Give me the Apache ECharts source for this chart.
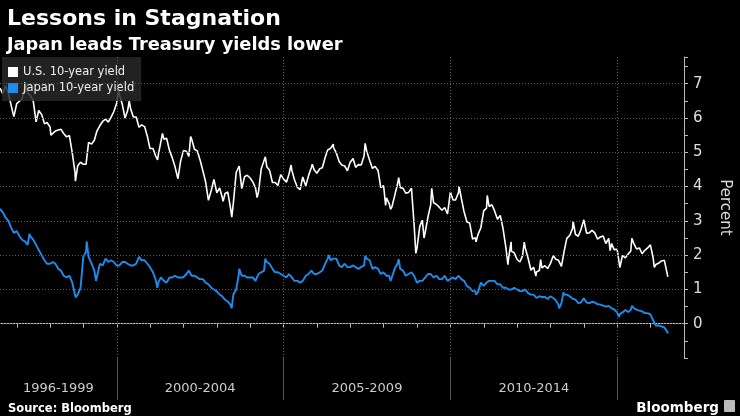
<!DOCTYPE html>
<html>
<head>
<meta charset="utf-8">
<script src="https://cdn.jsdelivr.net/npm/echarts@6/dist/echarts.min.js"></script>
<style>html,body{margin:0;padding:0;background:#000;}#c{width:740px;height:416px;}</style>
</head>
<body>
<div id="c"></div>
<script>
// ---- data ----
var usYield = [
['1996-07-01',6.87],['1996-07-31',6.71],['1996-08-30',6.94],['1996-09-30',6.72],['1996-10-31',6.37],['1996-11-29',6.04],['1996-12-05',6.10],['1996-12-31',6.42],
['1997-01-31',6.49],['1997-02-28',6.55],['1997-03-31',6.90],['1997-04-11',6.98],['1997-04-30',6.72],['1997-05-30',6.66],['1997-06-30',6.50],['1997-07-31',5.89],['1997-08-29',6.22],['1997-09-30',6.10],['1997-10-31',5.83],['1997-11-28',5.87],['1997-12-31',5.74],
['1998-01-09',5.50],['1998-01-30',5.51],['1998-02-27',5.62],['1998-03-31',5.65],['1998-04-30',5.67],['1998-05-29',5.55],['1998-06-30',5.45],['1998-07-31',5.49],['1998-08-31',4.98],['1998-09-30',4.42],['1998-10-05',4.16],['1998-10-30',4.61],['1998-11-30',4.71],['1998-12-31',4.65],
['1999-01-29',4.65],['1999-02-26',5.29],['1999-03-31',5.24],['1999-04-30',5.35],['1999-05-28',5.62],['1999-06-30',5.78],['1999-07-30',5.90],['1999-08-31',5.97],['1999-09-30',5.88],['1999-10-29',6.02],['1999-11-30',6.19],['1999-12-31',6.44],
['2000-01-20',6.79],['2000-01-31',6.67],['2000-02-29',6.41],['2000-03-31',6.00],['2000-04-28',6.21],['2000-05-16',6.50],['2000-05-31',6.27],['2000-06-30',6.03],['2000-07-31',6.03],['2000-08-31',5.73],['2000-09-29',5.80],['2000-10-31',5.75],['2000-11-30',5.47],['2000-12-29',5.11],
['2001-01-31',5.11],['2001-02-28',4.90],['2001-03-22',4.78],['2001-03-30',4.92],['2001-04-30',5.35],['2001-05-15',5.55],['2001-05-31',5.38],['2001-06-29',5.41],['2001-07-31',5.05],['2001-08-31',4.83],['2001-09-28',4.59],['2001-10-31',4.23],['2001-11-07',4.19],['2001-11-30',4.75],['2001-12-31',5.05],
['2002-01-31',5.03],['2002-02-28',4.88],['2002-03-19',5.46],['2002-03-29',5.40],['2002-04-30',5.09],['2002-05-31',5.04],['2002-06-28',4.80],['2002-07-31',4.46],['2002-08-30',4.14],['2002-09-30',3.60],['2002-10-09',3.57],['2002-10-31',3.89],['2002-11-29',4.21],['2002-12-31',3.82],
['2003-01-31',3.96],['2003-02-28',3.69],['2003-03-10',3.57],['2003-03-31',3.80],['2003-04-30',3.84],['2003-05-30',3.37],['2003-06-13',3.11],['2003-06-30',3.52],['2003-07-31',4.41],['2003-09-02',4.60],['2003-09-30',3.94],['2003-10-31',4.29],['2003-11-28',4.33],['2003-12-31',4.25],
['2004-01-30',4.13],['2004-02-27',3.97],['2004-03-16',3.68],['2004-03-31',3.84],['2004-04-30',4.51],['2004-06-14',4.87],['2004-06-30',4.58],['2004-07-30',4.48],['2004-08-31',4.12],['2004-09-30',4.12],['2004-10-29',4.03],['2004-11-30',4.35],['2004-12-31',4.22],
['2005-01-31',4.13],['2005-02-28',4.36],['2005-03-23',4.63],['2005-03-31',4.48],['2005-04-29',4.20],['2005-05-31',3.98],['2005-06-30',3.91],['2005-07-29',4.28],['2005-08-31',4.02],['2005-09-30',4.32],['2005-10-31',4.56],['2005-11-10',4.65],['2005-11-30',4.49],['2005-12-30',4.39],
['2006-01-31',4.52],['2006-02-28',4.55],['2006-03-31',4.85],['2006-04-28',5.07],['2006-05-31',5.12],['2006-06-28',5.24],['2006-06-30',5.14],['2006-07-31',4.98],['2006-08-31',4.73],['2006-09-29',4.63],['2006-10-31',4.60],['2006-11-30',4.46],['2006-12-29',4.70],
['2007-01-31',4.82],['2007-02-28',4.56],['2007-03-30',4.64],['2007-04-30',4.63],['2007-05-31',4.89],['2007-06-12',5.26],['2007-06-29',5.03],['2007-07-31',4.77],['2007-08-31',4.53],['2007-09-28',4.59],['2007-10-31',4.47],['2007-11-30',3.97],['2007-12-31',4.03],
['2008-01-22',3.45],['2008-01-31',3.67],['2008-02-29',3.51],['2008-03-17',3.34],['2008-03-31',3.41],['2008-04-30',3.73],['2008-05-30',4.06],['2008-06-13',4.26],['2008-06-30',3.97],['2008-07-31',3.95],['2008-08-29',3.81],['2008-09-30',3.83],['2008-10-31',3.95],['2008-11-28',2.93],['2008-12-18',2.05],['2008-12-31',2.21],
['2009-01-30',2.84],['2009-02-27',3.02],['2009-03-18',2.50],['2009-03-31',2.67],['2009-04-30',3.12],['2009-05-29',3.46],['2009-06-10',3.95],['2009-06-30',3.53],['2009-07-31',3.48],['2009-08-31',3.40],['2009-09-30',3.31],['2009-10-30',3.39],['2009-11-30',3.20],['2009-12-31',3.84],
['2010-01-29',3.61],['2010-02-26',3.61],['2010-03-31',3.83],['2010-04-05',4.01],['2010-04-30',3.66],['2010-05-28',3.29],['2010-06-30',2.97],['2010-07-30',2.94],['2010-08-31',2.47],['2010-09-30',2.51],['2010-10-08',2.39],['2010-10-29',2.60],['2010-11-30',2.80],['2010-12-31',3.29],
['2011-01-31',3.37],['2011-02-08',3.74],['2011-02-28',3.42],['2011-03-31',3.47],['2011-04-29',3.29],['2011-05-31',3.05],['2011-06-30',3.16],['2011-07-29',2.80],['2011-08-31',2.22],['2011-09-22',1.72],['2011-09-30',1.92],['2011-10-27',2.39],['2011-10-31',2.11],['2011-11-30',2.07],['2011-12-30',1.88],
['2012-01-31',1.80],['2012-02-29',1.98],['2012-03-19',2.38],['2012-03-30',2.21],['2012-04-30',1.91],['2012-05-31',1.56],['2012-06-29',1.65],['2012-07-24',1.39],['2012-07-31',1.51],['2012-08-31',1.55],['2012-09-14',1.87],['2012-09-28',1.63],['2012-10-31',1.69],['2012-11-30',1.61],['2012-12-31',1.76],
['2013-01-31',1.98],['2013-02-28',1.88],['2013-03-29',1.85],['2013-04-30',1.67],['2013-05-31',2.13],['2013-06-28',2.49],['2013-07-31',2.58],['2013-08-30',2.78],['2013-09-05',2.99],['2013-09-30',2.61],['2013-10-31',2.55],['2013-11-29',2.74],['2013-12-31',3.03],
['2014-01-31',2.64],['2014-02-28',2.65],['2014-03-31',2.72],['2014-04-30',2.65],['2014-05-30',2.47],['2014-06-30',2.53],['2014-07-31',2.56],['2014-08-29',2.34],['2014-09-30',2.49],['2014-10-15',2.13],['2014-10-31',2.34],['2014-11-28',2.16],['2014-12-31',2.17],
['2015-01-30',1.64],['2015-02-27',1.99],['2015-03-31',1.92],['2015-04-30',2.03],['2015-05-29',2.12],['2015-06-10',2.49],['2015-06-30',2.35],['2015-07-31',2.18],['2015-08-31',2.21],['2015-09-30',2.04],['2015-10-30',2.14],['2015-11-30',2.21],['2015-12-30',2.30],['2015-12-31',2.27],
['2016-01-29',1.92],['2016-02-11',1.64],['2016-02-29',1.73],['2016-03-31',1.77],['2016-04-29',1.83],['2016-05-31',1.85],['2016-06-30',1.47],['2016-07-08',1.37]
];
var japanYield = [
['1996-07-01',3.35],['1996-07-31',3.25],['1996-08-30',3.10],['1996-09-30',3.00],['1996-10-31',2.80],['1996-11-29',2.65],['1996-12-31',2.70],
['1997-01-31',2.55],['1997-02-28',2.45],['1997-03-31',2.40],['1997-04-30',2.30],['1997-05-20',2.62],['1997-05-30',2.55],['1997-06-30',2.45],['1997-07-31',2.30],['1997-08-29',2.15],['1997-09-30',2.00],['1997-10-31',1.85],['1997-11-28',1.75],['1997-12-31',1.75],
['1998-01-30',1.80],['1998-02-27',1.75],['1998-03-31',1.60],['1998-04-30',1.55],['1998-05-29',1.40],['1998-06-30',1.35],['1998-07-31',1.40],['1998-08-31',1.20],['1998-09-30',0.85],['1998-10-07',0.77],['1998-10-30',0.85],['1998-11-30',1.05],['1998-12-30',1.95],
['1999-01-29',2.10],['1999-02-05',2.40],['1999-02-26',1.95],['1999-03-31',1.75],['1999-04-30',1.55],['1999-05-18',1.25],['1999-05-31',1.40],['1999-06-30',1.75],['1999-07-30',1.70],['1999-08-31',1.90],['1999-09-30',1.80],['1999-10-29',1.85],['1999-11-30',1.80],['1999-12-30',1.70],
['2000-01-31',1.70],['2000-02-29',1.80],['2000-03-31',1.80],['2000-04-28',1.75],['2000-05-31',1.70],['2000-06-30',1.70],['2000-07-31',1.75],['2000-08-31',1.95],['2000-09-29',1.85],['2000-10-31',1.85],['2000-11-30',1.75],['2000-12-29',1.65],
['2001-01-31',1.50],['2001-02-28',1.30],['2001-03-19',1.05],['2001-03-30',1.20],['2001-04-27',1.35],['2001-05-31',1.25],['2001-06-29',1.20],['2001-07-31',1.35],['2001-08-31',1.35],['2001-09-28',1.40],['2001-10-31',1.35],['2001-11-30',1.35],['2001-12-28',1.35],
['2002-01-31',1.45],['2002-02-28',1.55],['2002-03-29',1.40],['2002-04-30',1.40],['2002-05-31',1.35],['2002-06-28',1.30],['2002-07-31',1.30],['2002-08-30',1.20],['2002-09-30',1.15],['2002-10-31',1.05],['2002-11-29',1.00],['2002-12-27',0.95],
['2003-01-31',0.85],['2003-02-28',0.80],['2003-03-31',0.70],['2003-04-30',0.65],['2003-05-30',0.55],['2003-06-11',0.45],['2003-06-30',0.85],['2003-07-31',1.00],['2003-08-29',1.45],['2003-09-02',1.60],['2003-09-30',1.40],['2003-10-31',1.40],['2003-11-28',1.35],['2003-12-26',1.35],
['2004-01-30',1.35],['2004-02-27',1.25],['2004-03-31',1.45],['2004-04-30',1.50],['2004-05-31',1.55],['2004-06-14',1.90],['2004-06-30',1.80],['2004-07-30',1.75],['2004-08-31',1.60],['2004-09-30',1.50],['2004-10-29',1.50],['2004-11-30',1.45],['2004-12-28',1.40],
['2005-01-31',1.35],['2005-02-28',1.45],['2005-03-31',1.35],['2005-04-28',1.25],['2005-05-31',1.25],['2005-06-30',1.20],['2005-07-29',1.25],['2005-08-31',1.40],['2005-09-30',1.45],['2005-10-31',1.55],['2005-11-30',1.45],['2005-12-28',1.45],
['2006-01-31',1.50],['2006-02-28',1.55],['2006-03-31',1.75],['2006-04-28',1.90],['2006-05-10',2.00],['2006-05-31',1.85],['2006-06-30',1.90],['2006-07-31',1.90],['2006-08-31',1.70],['2006-09-29',1.65],['2006-10-31',1.75],['2006-11-30',1.65],['2006-12-28',1.65],
['2007-01-31',1.70],['2007-02-28',1.65],['2007-03-30',1.60],['2007-04-27',1.65],['2007-05-31',1.70],['2007-06-13',1.98],['2007-06-29',1.90],['2007-07-31',1.85],['2007-08-31',1.60],['2007-09-28',1.65],['2007-10-31',1.60],['2007-11-30',1.45],['2007-12-28',1.50],
['2008-01-31',1.40],['2008-02-29',1.40],['2008-03-17',1.25],['2008-03-31',1.30],['2008-04-30',1.60],['2008-05-30',1.75],['2008-06-13',1.88],['2008-06-30',1.60],['2008-07-31',1.55],['2008-08-29',1.40],['2008-09-30',1.45],['2008-10-31',1.50],['2008-11-28',1.40],['2008-12-30',1.20],
['2009-01-30',1.25],['2009-02-27',1.25],['2009-03-31',1.35],['2009-04-30',1.45],['2009-05-29',1.45],['2009-06-30',1.35],['2009-07-31',1.40],['2009-08-31',1.30],['2009-09-30',1.30],['2009-10-30',1.40],['2009-11-30',1.25],['2009-12-30',1.30],
['2010-01-29',1.35],['2010-02-26',1.30],['2010-03-31',1.40],['2010-04-30',1.30],['2010-05-31',1.25],['2010-06-30',1.10],['2010-07-30',1.05],['2010-08-31',0.95],['2010-09-30',0.95],['2010-10-06',0.85],['2010-10-29',0.92],['2010-11-30',1.20],['2010-12-30',1.10],
['2011-01-31',1.20],['2011-02-28',1.25],['2011-03-31',1.25],['2011-04-28',1.25],['2011-05-31',1.15],['2011-06-30',1.15],['2011-07-29',1.05],['2011-08-31',1.05],['2011-09-30',1.00],['2011-10-31',1.00],['2011-11-30',1.05],['2011-12-30',1.00],
['2012-01-31',0.95],['2012-02-29',0.95],['2012-03-30',1.00],['2012-04-27',0.90],['2012-05-31',0.85],['2012-06-29',0.85],['2012-07-31',0.75],['2012-08-31',0.80],['2012-09-28',0.78],['2012-10-31',0.78],['2012-11-30',0.72],['2012-12-28',0.80],
['2013-01-31',0.75],['2013-02-28',0.68],['2013-03-29',0.55],['2013-04-05',0.45],['2013-04-30',0.60],['2013-05-23',0.92],['2013-05-31',0.85],['2013-06-28',0.85],['2013-07-31',0.80],['2013-08-30',0.73],['2013-09-30',0.70],['2013-10-31',0.60],['2013-11-29',0.62],['2013-12-30',0.74],
['2014-01-31',0.62],['2014-02-28',0.60],['2014-03-31',0.64],['2014-04-30',0.62],['2014-05-30',0.57],['2014-06-30',0.56],['2014-07-31',0.53],['2014-08-29',0.50],['2014-09-30',0.52],['2014-10-31',0.45],['2014-11-28',0.42],['2014-12-30',0.33],
['2015-01-20',0.20],['2015-01-30',0.28],['2015-02-27',0.33],['2015-03-31',0.40],['2015-04-30',0.34],['2015-05-29',0.40],['2015-06-10',0.52],['2015-06-30',0.46],['2015-07-31',0.41],['2015-08-31',0.38],['2015-09-30',0.36],['2015-10-30',0.31],['2015-11-30',0.31],['2015-12-30',0.27],
['2016-01-29',0.10],['2016-02-29',-0.06],['2016-03-31',-0.05],['2016-04-28',-0.08],['2016-05-31',-0.11],['2016-06-30',-0.23],['2016-07-08',-0.28]
];
var seriesNames = ['U.S. 10-year yield', 'Japan 10-year yield'];
var periodLabels = ['1996-1999', '2000-2004', '2005-2009', '2010-2014'];
var periodCenters = ['1998-04-01', '2002-07-02', '2007-07-02', '2012-07-02'];
var periodBreaks = ['2000-01-01', '2005-01-01', '2010-01-01', '2015-01-01'];
var yearTicks = ['1997','1998','1999','2000','2001','2002','2003','2004','2005','2006','2007','2008','2009','2010','2011','2012','2013','2014','2015','2016','2017'];
var yGridValues = [0, 1, 2, 3, 4, 5, 6, 7];
var xStart = '1996-07-01', xEnd = '2017-01-01';

// ---- chart ----
function ts(s) { return echarts.number.parseDate(s).getTime(); }
var FONT = 'DejaVu Sans';
var centerTs = periodCenters.map(ts);
var chart = echarts.init(document.getElementById('c'), null, { renderer: 'canvas' });

var gridMarks = periodBreaks.map(function (d) { return { xAxis: ts(d) }; })
  .concat(yGridValues.map(function (v) { return { yAxis: v }; }));

chart.setOption({
  backgroundColor: '#000',
  animation: false,
  textStyle: { fontFamily: FONT },
  title: [
    { text: 'Lessons in Stagnation', left: 2, top: 3, textStyle: { color: '#fff', fontSize: 22, fontWeight: 'bold', fontFamily: FONT } },
    { text: 'Japan leads Treasury yields lower', left: 2, top: 31, textStyle: { color: '#fff', fontSize: 17.8, fontWeight: 'bold', fontFamily: FONT } },
    { text: 'Source: Bloomberg', left: 3, top: 398, textStyle: { color: '#fff', fontSize: 11.5, fontWeight: 'bold', fontFamily: FONT } },
    { text: 'Bloomberg', right: 16, top: 396, textStyle: { color: '#fff', fontSize: 13.5, fontWeight: 'bold', fontFamily: FONT } }
  ],
  graphic: [
    { type: 'rect', right: 5, top: 400, shape: { width: 11, height: 12, r: 1 }, style: { fill: '#bbb' } }
  ],
  legend: {
    data: seriesNames,
    orient: 'vertical', left: 2, top: 57,
    backgroundColor: 'rgba(40,40,40,0.85)',
    padding: [9, 7, 7, 6],
    itemGap: 4, itemWidth: 10, itemHeight: 10, icon: 'rect',
    textStyle: { color: '#eee', fontSize: 11.5, fontFamily: FONT }
  },
  grid: { left: 0, right: 50, top: 57, bottom: 58, containLabel: false },
  xAxis: [
    {
      type: 'value', min: ts(xStart), max: ts(xEnd),
      axisLine: { show: true, lineStyle: { color: '#bbb', width: 1 } },
      axisTick: { show: true, length: 4, lineStyle: { color: '#bbb' }, customValues: yearTicks.map(function (y) { return ts(y + '-01-01'); }) },
      axisLabel: {
        show: true, color: '#ccc', fontSize: 13, margin: 24, fontFamily: FONT,
        customValues: centerTs,
        formatter: function (v) {
          var best = 0, bd = Infinity;
          for (var i = 0; i < centerTs.length; i++) { var d = Math.abs(centerTs[i] - v); if (d < bd) { bd = d; best = i; } }
          return periodLabels[best];
        }
      },
      splitLine: { show: false }
    },
    {
      type: 'value', min: ts(xStart), max: ts(xEnd), position: 'bottom',
      axisLine: { show: false },
      axisTick: { show: true, length: 42, lineStyle: { color: '#555' }, customValues: periodBreaks.map(ts) },
      axisLabel: { show: false },
      splitLine: { show: false }
    }
  ],
  yAxis: {
    type: 'value', position: 'right', min: -1, max: 7.78, interval: 1,
    axisLine: { show: true, lineStyle: { color: '#bbb' } },
    axisTick: { show: true, length: 4, lineStyle: { color: '#bbb' } },
    minorTick: { show: true, splitNumber: 2, length: 4, lineStyle: { color: '#bbb' } },
    axisLabel: {
      color: '#ddd', fontSize: 15, margin: 9, fontFamily: FONT,
      formatter: function (v) { return (Math.abs(v - Math.round(v)) < 1e-6 && v >= 0) ? String(Math.round(v)) : ''; }
    },
    splitLine: { show: false },
    name: 'Percent', nameLocation: 'middle', nameRotate: -90, nameGap: 33,
    nameTextStyle: { color: '#ddd', fontSize: 15, fontFamily: FONT }
  },
  series: [
    {
      type: 'line', data: [], z: 1, silent: true,
      markLine: {
        silent: true, symbol: ['none', 'none'], label: { show: false },
        lineStyle: { color: '#5a5a5a', type: [1, 2], width: 1 },
        data: gridMarks
      }
    },
    {
      name: seriesNames[0], type: 'line', z: 3,
      data: usYield.map(function (p) { return [ts(p[0]), p[1]]; }),
      showSymbol: false, symbol: 'none',
      lineStyle: { color: '#fff', width: 1.6 }, itemStyle: { color: '#fff' }
    },
    {
      name: seriesNames[1], type: 'line', z: 3,
      data: japanYield.map(function (p) { return [ts(p[0]), p[1]]; }),
      showSymbol: false, symbol: 'none',
      lineStyle: { color: '#1f8ceb', width: 1.9 }, itemStyle: { color: '#1f8ceb' }
    }
  ]
});
</script>
</body>
</html>
